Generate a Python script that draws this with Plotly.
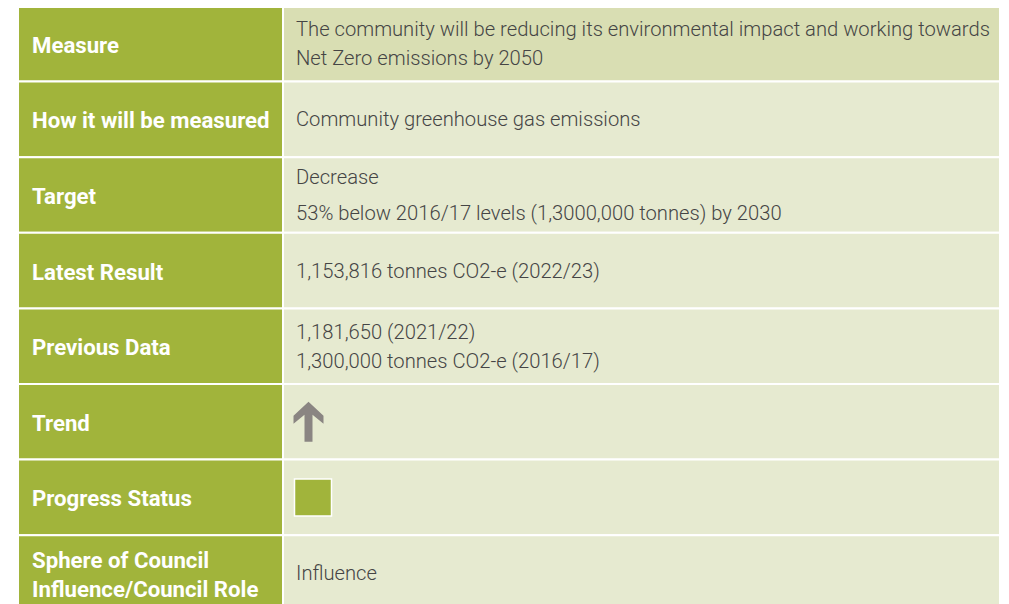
import plotly.graph_objects as go

# ---- data ----
labels = [
    "Measure",
    "How it will be measured",
    "Target",
    "Latest Result",
    "Previous Data",
    "Trend",
    "Progress Status",
    "Sphere of Council<br>Influence/Council Role",
]
values = [
    ["The community will be reducing its environmental impact and working towards",
     "Net Zero emissions by 2050"],
    ["Community greenhouse gas emissions"],
    ["Decrease", "53% below 2016/17 levels (1,3000,000 tonnes) by 2030"],
    ["1,153,816 tonnes CO2-e (2022/23)"],
    ["1,181,650 (2021/22)", "1,300,000 tonnes CO2-e (2016/17)"],
    [],
    [],
    ["Influence"],
]
icons = [None, None, None, None, None, "arrow", "square", None]

# ---- styling / layout ----
W, H = 1009, 604
OFF = 8  # page margin around the plot div
X0, XSPLIT, X1 = 18, 283, 1000
Y0, ROW_H = 6, 75.6
GREEN = "#a1b43b"
HEAD_BG = "#d9deb3"
CELL_BG = "#e6ead0"
TEXT = "#454545"
ARROW = "#8a8582"
LABEL_FONT = dict(family="Roboto", size=22.2, color="white", weight=700)
VALUE_FONT = dict(family="Roboto", size=20.2, color=TEXT, weight=300)
line_gap = {2: 36}
default_gap = 29

fig = go.Figure()
shapes = []
annotations = []

for i, lab in enumerate(labels):
    top = Y0 + i * ROW_H
    bot = top + ROW_H
    yc = (top + bot) / 2
    shapes.append(dict(type="rect", x0=X0, x1=XSPLIT, y0=top, y1=bot,
                       fillcolor=GREEN, line=dict(color="white", width=2), layer="below"))
    shapes.append(dict(type="rect", x0=XSPLIT, x1=X1, y0=top, y1=bot,
                       fillcolor=HEAD_BG if i == 0 else CELL_BG,
                       line=dict(color="white", width=2), layer="below"))
    annotations.append(dict(x=30, y=yc + 1, text=lab, showarrow=False,
                            xanchor="left", yanchor="middle", align="left",
                            font=LABEL_FONT))
    lines = values[i]
    gap = line_gap.get(i, default_gap)
    n = len(lines)
    for j, t in enumerate(lines):
        y = yc + (j - (n - 1) / 2) * gap
        annotations.append(dict(x=294, y=y, text=t, showarrow=False,
                                xanchor="left", yanchor="middle", font=VALUE_FONT))
    if icons[i] == "arrow":
        ax, at, ab = 308.5, yc - 20, yc + 20
        path = (f"M {ax-4} {ab} L {ax+4} {ab} L {ax+4} {at+13} L {ax+15} {at+22} "
                f"L {ax+15} {at+14} L {ax} {at} L {ax-15} {at+14} L {ax-15} {at+22} "
                f"L {ax-4} {at+13} Z")
        shapes.append(dict(type="path", path=path, fillcolor=ARROW, line=dict(width=0)))
    if icons[i] == "square":
        shapes.append(dict(type="rect", x0=294.5, x1=331.5, y0=yc - 18.5, y1=yc + 18.5,
                           fillcolor=GREEN, line=dict(color="white", width=1.5)))

fig.update_layout(
    width=W, height=H,
    margin=dict(l=0, r=0, t=0, b=0),
    paper_bgcolor="white", plot_bgcolor="white",
    xaxis=dict(range=[OFF, W + OFF], visible=False, fixedrange=True),
    yaxis=dict(range=[H + OFF, OFF], visible=False, fixedrange=True),
    shapes=shapes, annotations=annotations, showlegend=False,
)
fig.write_html("out.html")
